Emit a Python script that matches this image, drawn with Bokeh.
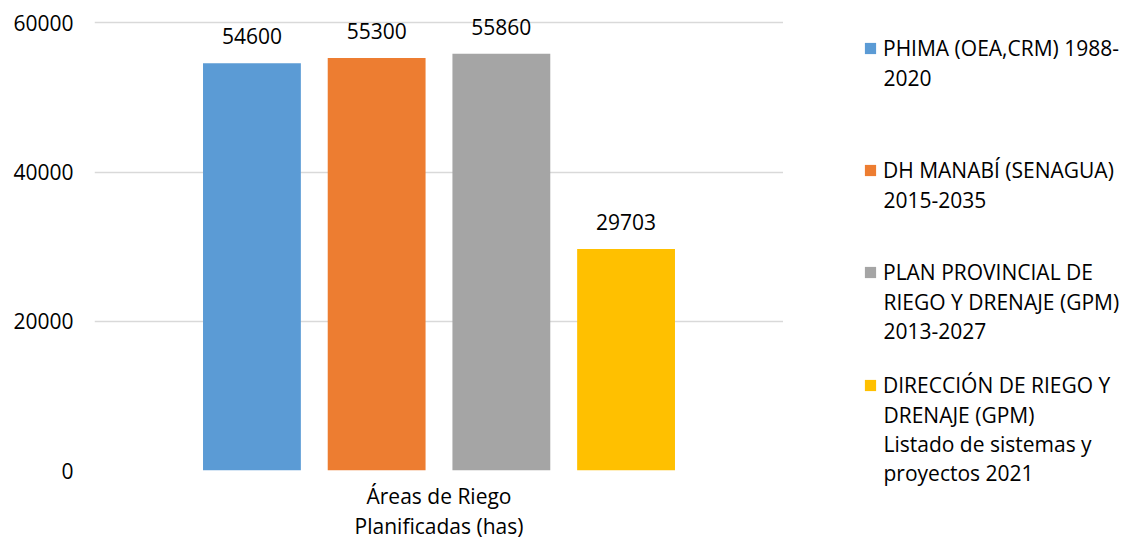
from bokeh.plotting import figure
from bokeh.layouts import row
from bokeh.models import (ColumnDataSource, FactorRange, Range1d, FixedTicker, NumeralTickFormatter,
                          LabelSet, Legend, LegendItem, Label)
from bokeh.core.properties import value
from bokeh.transform import dodge
from bokeh.embed import file_html
from bokeh.resources import INLINE

category = ["Áreas de Riego\nPlanificadas (has)"]
series = [
    ["PHIMA (OEA,CRM) 1988-", "2020"],
    ["DH MANABÍ (SENAGUA)", "2015-2035"],
    ["PLAN PROVINCIAL DE", "RIEGO Y DRENAJE (GPM)", "2013-2027"],
    ["DIRECCIÓN DE RIEGO Y", "DRENAJE (GPM)", "Listado de sistemas y", "proyectos 2021"],
]
values = [54600, 55300, 55860, 29703]
colors = ["#5B9BD5", "#ED7D31", "#A5A5A5", "#FFC000"]
y_ticks = [0, 20000, 40000, 60000]

FONT = "Open Sans"
FS = "21px"
TXT = "#000000"
H = 541

p = figure(x_range=FactorRange(factors=category, range_padding=0),
           y_range=Range1d(0, 63000),
           width=783, height=H, frame_width=689, frame_height=470,
           min_border_left=94, min_border_top=0, min_border_right=0,
           output_backend="svg", toolbar_location=None)
p.outline_line_color = None

# legend-only companion figure (its bars lie outside its visible range)
QW = 338
q = figure(x_range=FactorRange(factors=category, range_padding=0),
           y_range=Range1d(1e6, 2e6),
           width=QW, height=H, frame_width=QW, frame_height=H, min_border=0,
           output_backend="svg", toolbar_location=None)
q.outline_line_color = None
q.axis.visible = False
q.grid.visible = False

bar_w = 0.142
step = 0.181
item_tops = [48, 170, 272, 385]   # page y of each legend item's first line
line_gap = 29
glyph_x = 80
for i, (s, v, c) in enumerate(zip(series, values, colors)):
    src = ColumnDataSource(dict(cat=category, val=[v], lab=[str(v)]))
    off = (i - 1.5) * step
    p.vbar(x=dodge("cat", off, range=p.x_range), top="val", width=bar_w,
           source=src, fill_color=c, line_color=None)
    lbl = LabelSet(x=dodge("cat", off, range=p.x_range), y="val", text="lab", source=src,
                   text_align="center", text_baseline="bottom", y_offset=19,
                   text_font=value(FONT), text_font_size=FS, text_color=TXT)
    p.add_layout(lbl)
    rq = q.vbar(x=dodge("cat", off, range=q.x_range), top="val", width=bar_w,
                source=src, fill_color=c, line_color=None)
    leg = Legend(items=[LegendItem(label=s[0], renderers=[rq])],
                 location=(glyph_x, H - item_tops[i] - 14),
                 glyph_width=14, glyph_height=14, label_standoff=6, padding=0, margin=0,
                 border_line_color=None, background_fill_alpha=0,
                 label_text_font=FONT, label_text_font_size=FS, label_text_color=TXT)
    q.add_layout(leg, "center")
    for k, extra in enumerate(s[1:], start=1):
        q.add_layout(Label(x=glyph_x + 20, y=H - item_tops[i] - k * line_gap,
                           x_units="screen", y_units="screen", text=extra,
                           text_baseline="middle", text_align="left",
                           text_font=FONT, text_font_size=FS, text_color=TXT))

p.yaxis.ticker = FixedTicker(ticks=y_ticks)
p.yaxis.formatter = NumeralTickFormatter(format="0")
p.yaxis.axis_line_color = None
p.yaxis.major_tick_line_color = None
p.yaxis.minor_tick_line_color = None
p.yaxis.major_label_standoff = 15
p.yaxis.major_label_text_font = FONT
p.yaxis.major_label_text_font_size = FS
p.yaxis.major_label_text_color = TXT

p.xaxis.axis_line_color = None
p.xaxis.major_tick_line_color = None
p.xaxis.major_label_standoff = 5
p.xaxis.major_label_text_font = FONT
p.xaxis.major_label_text_font_size = FS
p.xaxis.major_label_text_color = TXT
p.xaxis.major_label_text_line_height = 1.08

p.xgrid.grid_line_color = None
p.ygrid.grid_line_color = "#D9D9D9"
p.ygrid.grid_line_width = 1.5

open("out.html", "w").write(file_html(row(p, q), INLINE))
